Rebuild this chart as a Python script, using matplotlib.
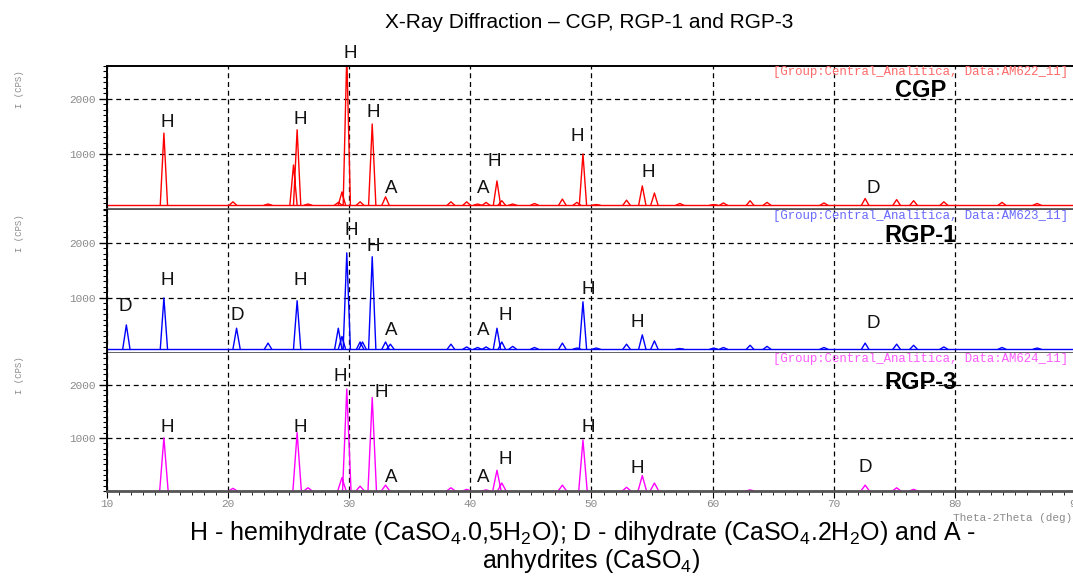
import numpy as np
import matplotlib
matplotlib.use('Agg')
import matplotlib.pyplot as plt
from matplotlib.ticker import MultipleLocator, FixedLocator

plt.rcParams['font.family'] = ['Liberation Sans', 'DejaVu Sans']
plt.rcParams['mathtext.fontset'] = 'custom'

# peak positions (2theta, deg) shared by the three patterns
two_theta = [11.6, 14.7, 20.4, 20.7, 23.3, 25.4, 25.7, 26.6, 29.1, 29.4, 29.8, 30.9, 31.1, 31.9,
             33.0, 33.4, 38.4, 39.7, 40.6, 41.3, 42.2, 42.6, 43.5, 45.3, 47.6, 48.8, 49.3, 50.4,
             52.9, 54.2, 55.2, 57.3, 60.1, 60.9, 63.1, 64.5, 69.2, 72.6, 75.2, 76.6, 79.1, 83.9, 86.8]

# peak intensities (CPS), 0 = no peak
cgp = [0, 1380, 130, 0, 90, 800, 1440, 90, 120, 310, 2800, 130, 0, 1545,
       220, 0, 130, 130, 90, 120, 510, 150, 90, 100, 180, 120, 1000, 80,
       160, 420, 290, 100, 80, 110, 150, 120, 110, 190, 170, 150, 130, 120, 100]
rgp1 = [510, 1000, 0, 450, 180, 0, 950, 70, 450, 300, 1820, 200, 200, 1750,
        200, 160, 160, 110, 100, 110, 450, 200, 120, 100, 180, 90, 930, 90,
        160, 330, 220, 80, 90, 100, 140, 120, 100, 180, 160, 140, 110, 100, 90]
rgp3 = [0, 1000, 50, 0, 0, 0, 1100, 60, 0, 250, 1920, 90, 0, 1760,
        110, 0, 60, 30, 0, 20, 390, 150, 0, 0, 110, 0, 960, 0,
        70, 290, 150, 0, 0, 0, 20, 0, 0, 110, 60, 30, 0, 0, 0]
baselines = [70, 70, 0]

# phase labels
cgp_lab = ['H', 'H', 'H', 'H', 'A', 'A', 'H', 'H', 'H', 'D']
cgp_lab_x = [15.0, 25.95, 30.1, 32.0, 33.5, 41.1, 42.0, 48.8, 54.7, 73.3]
cgp_lab_y = [1580, 1620, 2830, 1745, 380, 380, 855, 1310, 670, 380]
rgp1_lab = ['D', 'H', 'D', 'H', 'H', 'H', 'A', 'A', 'H', 'H', 'H', 'D']
rgp1_lab_x = [11.5, 15.0, 20.75, 25.95, 30.2, 32.0, 33.5, 41.1, 42.9, 49.7, 53.8, 73.3]
rgp1_lab_y = [840, 1310, 690, 1310, 2220, 1930, 400, 400, 690, 1145, 545, 530]
rgp3_lab = ['H', 'H', 'H', 'H', 'A', 'A', 'H', 'H', 'H', 'D']
rgp3_lab_x = [15.0, 25.95, 29.3, 32.65, 33.5, 41.1, 42.9, 49.7, 53.8, 72.6]
rgp3_lab_y = [1190, 1190, 2165, 1850, 255, 255, 585, 1190, 420, 440]

names = ['CGP', 'RGP-1', 'RGP-3']
files = ['AM622_11', 'AM623_11', 'AM624_11']
colors = ['#ff0000', '#0000ff', '#ff00ff']
file_colors = ['#ff6a6a', '#6a6aff', '#ff5cff']
series = [cgp, rgp1, rgp3]
labels = [(cgp_lab, cgp_lab_x, cgp_lab_y), (rgp1_lab, rgp1_lab_x, rgp1_lab_y),
          (rgp3_lab, rgp3_lab_x, rgp3_lab_y)]

gray = '#8a8a8a'
mono = ['Liberation Mono', 'DejaVu Sans Mono']

fig = plt.figure(figsize=(10.73, 5.76), dpi=100)
boxes = [[0.0997, 0.6372, 0.903, 0.2483],
         [0.0997, 0.3872, 0.903, 0.2483],
         [0.0997, 0.1476, 0.903, 0.2396]]

for i in range(3):
    ax = fig.add_axes(boxes[i])
    base = baselines[i]
    hw = 0.3 if i < 2 else 0.35
    xs, ys = [], []
    for p, h in zip(two_theta, series[i]):
        if h <= base:
            continue
        xs += [p - hw, p, p + hw, np.nan]
        ys += [base, h, base, np.nan]
    ax.plot([10, 90], [base, base], color=colors[i], lw=1.0)
    ax.plot(xs, ys, color=colors[i], lw=1.0)

    ax.set_xlim(10, 90)
    ax.set_ylim(0, 2600)
    ax.yaxis.set_major_locator(FixedLocator([1000, 2000]))
    ax.yaxis.set_minor_locator(MultipleLocator(100))
    ax.xaxis.set_major_locator(MultipleLocator(10))
    ax.xaxis.set_minor_locator(MultipleLocator(1))
    ax.grid(True, which='major', color='black', linestyle=(0, (4, 3)), lw=0.9)
    ax.tick_params(axis='y', which='major', length=6, width=1, direction='out',
                   labelsize=8, labelcolor=gray, pad=2)
    ax.tick_params(axis='y', which='minor', length=3, width=0.8, direction='out')
    for lab in ax.get_yticklabels():
        lab.set_family(mono)
    if i < 2:
        ax.tick_params(axis='x', which='both', bottom=False, labelbottom=False)
    else:
        ax.tick_params(axis='x', which='major', length=5, direction='out',
                       labelsize=8, labelcolor=gray, pad=1)
        ax.tick_params(axis='x', which='minor', length=3, direction='out')
        for lab in ax.get_xticklabels():
            lab.set_family(mono)
        ax.text(0.996, -0.195, 'Theta-2Theta (deg)', transform=ax.transAxes, ha='right',
                va='center', fontsize=8, color=gray, family=mono, clip_on=False)

    ax.spines['right'].set_visible(False)
    ax.spines['left'].set_linewidth(1.4)
    ax.spines['bottom'].set_color('#555555')
    ax.spines['bottom'].set_linewidth(2)
    if i == 0:
        ax.spines['top'].set_linewidth(1.4)
    else:
        ax.spines['top'].set_visible(False)

    ax.text(-0.09, 0.84, 'I (CPS)', transform=ax.transAxes, rotation=90, ha='center',
            va='center', fontsize=6.5, color=gray, family=mono)
    ax.text(0.992, 0.955, '[Group:Central_Analitica, Data:%s]' % files[i],
            transform=ax.transAxes, ha='right', va='center', fontsize=8.9,
            color=file_colors[i], family=mono)
    ax.text(77.2, [2160, 2130, 2040][i], names[i], ha='center', va='center',
            fontsize=17, fontweight='bold', color='black')

    txt, lx, ly = labels[i]
    for t, x, y in zip(txt, lx, ly):
        ax.text(x, y, t, ha='center', va='center', fontsize=13.5, color='#111111',
                clip_on=False)

fig.text(0.549, 1 - 22 / 576, 'X-Ray Diffraction \u2013 CGP, RGP-1 and RGP-3',
         ha='center', va='center', fontsize=15)

fig.text(0.543, 1 - 533 / 576,
         r'H - hemihydrate (CaSO$_\mathregular{4}$.0,5H$_\mathregular{2}$O); '
         r'D - dihydrate (CaSO$_\mathregular{4}$.2H$_\mathregular{2}$O) and A -',
         ha='center', va='center', fontsize=18)
fig.text(0.551, 1 - 561 / 576, r'anhydrites (CaSO$_\mathregular{4}$)',
         ha='center', va='center', fontsize=18)

fig.savefig('out.png', dpi=100)
